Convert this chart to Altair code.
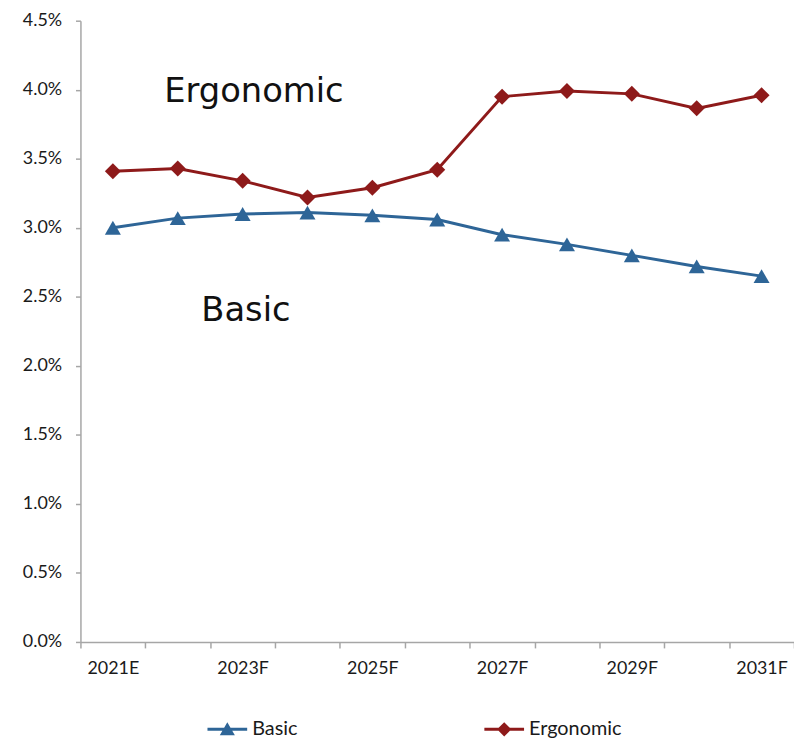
import altair as alt
import pandas as pd

years = ["2021E", "2022F", "2023F", "2024F", "2025F", "2026F",
         "2027F", "2028F", "2029F", "2030F", "2031F"]
shown_labels = ["2021E", "2023F", "2025F", "2027F", "2029F", "2031F"]
basic = [3.00, 3.07, 3.10, 3.11, 3.09, 3.06, 2.95, 2.88, 2.80, 2.72, 2.65]
ergonomic = [3.41, 3.43, 3.34, 3.22, 3.29, 3.42, 3.95, 3.99, 3.97, 3.865, 3.96]
series = ["Basic", "Ergonomic"]
colors = ["#2E6597", "#8E1A1A"]
y_ticks = [0.0, 0.005, 0.010, 0.015, 0.020, 0.025, 0.030, 0.035, 0.040, 0.045]
ann_text = ["Ergonomic", "Basic"]
ann_x = ["2023F", "2023F"]
ann_y = [0.0398, 0.0240]

rows = []
for i, yr in enumerate(years):
    rows.append({"year": yr, "series": "Basic", "value": basic[i] / 100})
    rows.append({"year": yr, "series": "Ergonomic", "value": ergonomic[i] / 100})
df = pd.DataFrame(rows)
ann = pd.DataFrame({"text": ann_text, "year": ann_x, "value": ann_y})

label_list = "[" + ",".join("'" + s + "'" for s in shown_labels) + "]"

x_enc = alt.X("year:N", sort=years, scale=alt.Scale(domain=years, paddingInner=0, paddingOuter=0),
              axis=alt.Axis(title=None, labelAngle=0, tickBand="extent", tickSize=6,
                            labelExpr="indexof(" + label_list + ", datum.value) >= 0 ? datum.value : ''",
                            labelPadding=12, labelFontSize=18))
y_enc = alt.Y("value:Q", scale=alt.Scale(domain=[0, 0.045], nice=False, zero=True),
              axis=alt.Axis(title=None, values=y_ticks, format=".1%", tickSize=5,
                            labelPadding=14, grid=False, labelFontSize=18))

lines = alt.Chart(df).mark_line(strokeWidth=3).encode(
    x=x_enc, y=y_enc,
    color=alt.Color("series:N", scale=alt.Scale(domain=series, range=colors), legend=None),
)

points = alt.Chart(df).mark_point(filled=True, size=260, opacity=1).encode(
    x=x_enc, y=y_enc,
    color=alt.Color("series:N", scale=alt.Scale(domain=series, range=colors), legend=None),
    shape=alt.Shape("series:N", scale=alt.Scale(domain=series, range=["triangle-up", "diamond"]), legend=None),
)

basic_sym = "M-1,-0.075H1V0.075H-1Z M-0.38,0.3L0,-0.36L0.38,0.3Z"
ergo_sym = "M-1,-0.075H1V0.075H-1Z M0,-0.36L0.36,0L0,0.36L-0.36,0Z"

leg = alt.Legend(title=None, orient="none", legendX=128, legendY=694,
                 direction="horizontal", columns=2, columnPadding=188,
                 symbolSize=1600, symbolOpacity=1, symbolStrokeWidth=0,
                 labelFont="Lato", labelFontSize=20, labelColor="#1a1a1a",
                 labelOffset=5)

legend_layer = alt.Chart(df).mark_point(filled=True, opacity=0).encode(
    x=x_enc, y=y_enc,
    color=alt.Color("series:N", scale=alt.Scale(domain=series, range=colors), legend=leg),
    shape=alt.Shape("series:N", scale=alt.Scale(domain=series, range=[basic_sym, ergo_sym]), legend=leg),
)

texts = alt.Chart(ann).mark_text(font="DejaVu Sans", fontSize=34, color="#111111",
                                 baseline="middle", align="center").encode(
    x=alt.X("year:N", sort=years),
    y=alt.Y("value:Q"),
    text="text:N",
    xOffset=alt.XOffset("text:N", scale=alt.Scale(domain=ann_text, range=[48, 32])),
)

chart = alt.layer(lines, points, legend_layer, texts).resolve_scale(
    shape="independent", color="independent"
).properties(
    width=719, height=626,
    autosize=alt.AutoSizeParams(type="none"),
    padding={"left": 73, "top": 10, "right": 0, "bottom": 96},
).configure_view(stroke=None).configure_axis(
    domainColor="#a6a6a6", tickColor="#a6a6a6", domainWidth=1.5, tickWidth=1.5,
    labelFont="Lato", labelColor="#1a1a1a",
)

chart.save("out.html", embed_options={"renderer": "svg", "actions": False})
